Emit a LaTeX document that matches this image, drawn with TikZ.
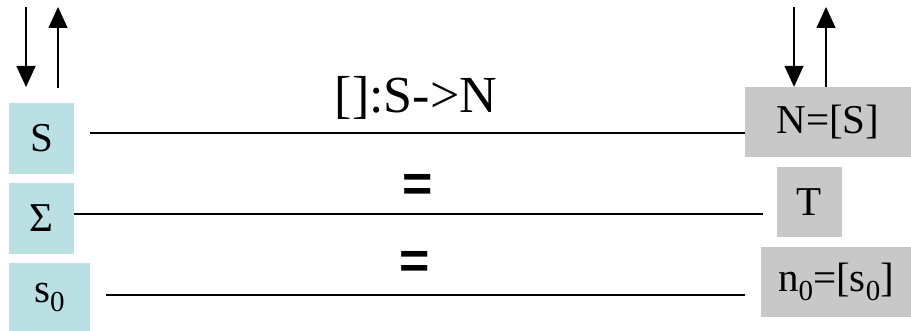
\documentclass[tikz,border=0pt]{standalone}
\usepackage{fontspec}
\setmainfont{Liberation Serif}
\newfontfamily\eqfont{Liberation Sans}
\usetikzlibrary{arrows.meta}
\definecolor{boxblue}{HTML}{BBE0E3}
\definecolor{boxgray}{HTML}{C8C8C8}
% lowered subscript digit, as set in the slide labels
\newcommand\lowsub[1]{\raisebox{-9pt}{\fontsize{29}{29}\selectfont #1}}
\tikzset{
  lbox/.style={fill=boxblue, inner sep=0pt, font=\fontsize{41}{41}\selectfont},
  rbox/.style={fill=boxgray, inner sep=0pt, font=\fontsize{41}{41}\selectfont},
  link/.style={line width=1.5pt},
  io/.style={line width=1.5pt, -{Triangle[width=19pt,length=21pt]}},
  eqsign/.style={font=\eqfont\bfseries\fontsize{52}{52}\selectfont, inner sep=0pt},
}
\begin{document}
\begin{tikzpicture}[x=1pt,y=-1pt]
\useasboundingbox (0,0) rectangle (911,331);

% source side
\node[lbox, minimum width=65pt, minimum height=71pt] (S) at (41.5,138.5) {S};
\node[lbox, minimum width=65pt, minimum height=71pt] (Sig) at (41.5,218.5) {Σ};
\node[lbox, minimum width=81pt, minimum height=68pt] (s0) at (49.5,297) {s\lowsub{0}};

% target side
\node[rbox, minimum width=166pt, minimum height=70pt] (N) at (828,122) {N=[S]};
\node[rbox, minimum width=65pt, minimum height=70pt] (T) at (809.5,202) {T};
\node[rbox, minimum width=150pt, minimum height=70pt] (n0) at (836,282) {n\lowsub{0}=[s\lowsub{0}]};

% labels over the connecting lines
\node[font=\fontsize{52}{52}\selectfont, inner sep=0pt] (map) at (416,98) {[]:S->N};
\node[eqsign] (eq1) at (418,188) {=};
\node[eqsign] (eq2) at (415,265) {=};

% connecting lines
\coordinate (l1a) at (90,133);  \coordinate (l1b) at (745,133);
\coordinate (l2a) at (74,214);  \coordinate (l2b) at (763,214);
\coordinate (l3a) at (106,295); \coordinate (l3b) at (745,295);
\draw[link] (l1a) -- (l1b);
\draw[link] (l2a) -- (l2b);
\draw[link] (l3a) -- (l3b);

% input / output arrows
\coordinate (lin0) at (26,7);  \coordinate (lin1) at (26,87);
\coordinate (lout0) at (58,88); \coordinate (lout1) at (58,7);
\coordinate (rin0) at (794,7); \coordinate (rout1) at (826,7);
\draw[io] (lin0) -- (lin1);
\draw[io] (lout0) -- (lout1);
\draw[io] (rin0) -- (N.north -| rin0);
\draw[io] (N.north -| rout1) -- (rout1);
\end{tikzpicture}
\end{document}
